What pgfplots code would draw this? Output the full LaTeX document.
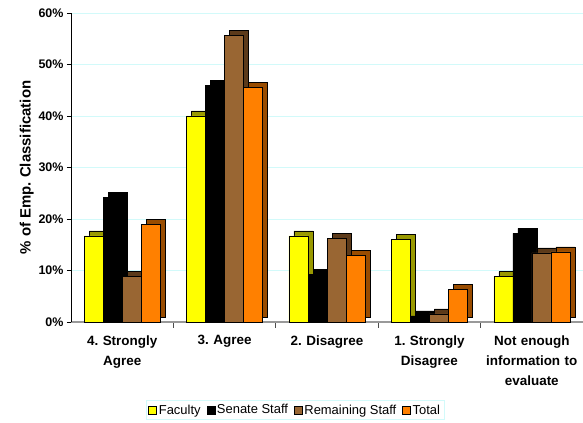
\documentclass[border=0pt]{standalone}
\usepackage{pgfplots}
\pgfplotsset{compat=1.18}
\usepackage{fontspec}
\setmainfont{Liberation Sans}
\usetikzlibrary{calc}
\definecolor{cFac}{HTML}{FFFF00}
\definecolor{cFacS}{HTML}{999900}
\definecolor{cSen}{HTML}{000000}
\definecolor{cSenS}{HTML}{000000}
\definecolor{cRem}{HTML}{996633}
\definecolor{cRemS}{HTML}{5C3A1A}
\definecolor{cTot}{HTML}{FF8000}
\definecolor{cTotS}{HTML}{994C00}
\definecolor{cGrid}{HTML}{D2FAFA}

\pgfplotstableread{
x fac sen rem tot
0 16.7 24.2 8.8 19.0
1 40.0 45.9 55.6 45.6
2 16.7 9.2 16.3 13.0
3 16.1 1.2 1.6 6.4
4 8.8 17.2 13.4 13.6
}\datatable

\tikzset{depth/.style={preaction={fill=#1, draw=black, line width=0.4pt,
  transform canvas={shift={(5bp,5bp)}}}}}

\begin{document}
\frenchspacing
\begin{tikzpicture}
\begin{axis}[
  name=ax,
  width=512bp, height=309bp, scale only axis,
  ybar, bar width=19bp,
  xmin=-0.5, xmax=4.5, ymin=0, ymax=60,
  axis lines*=left,
  x axis line style={draw=gray!80, line width=2.5bp},
  y axis line style={draw=black, line width=0.8bp},
  xtick={0,...,4},
  xticklabels={4. Strongly\\Agree, 3. Agree, 2. Disagree, 1. Strongly\\Disagree, Not enough\\information to\\evaluate},
  xticklabel style={align=center, text width=100bp, font=\fontsize{13.5}{20}\selectfont\bfseries, yshift=-6bp},
  major x tick style={draw=none},
  minor xtick={0.5,1.5,2.5,3.5},
  minor x tick style={draw=gray!60!black, line width=0.8bp},
  minor tick length=6bp,
  tick align=outside,
  ytick={0,10,...,60},
  major tick length=4bp,
  y tick style={draw=black, line width=0.8bp},
  yticklabel={\pgfmathprintnumber{\tick}\%},
  /pgf/number format/assume math mode=true,
  yticklabel style={font=\fontsize{12.5}{14}\selectfont\bfseries},
  ylabel={\% of Emp. Classification},
  ylabel style={font=\fontsize{15}{17}\selectfont\bfseries, yshift=-2bp},
  ymajorgrids, grid style={draw=cGrid, line width=0.8bp},
  legend columns=4,
  legend style={at={(rel axis cs:0.438,-0.285)}, anchor=center, draw=cGrid,
    font=\fontsize{13}{15}\selectfont, inner sep=2bp,
    /tikz/every even column/.append style={column sep=4bp}},
  legend image code/.code={\draw[#1, line width=0.4pt] (0bp,-4bp) rectangle (8bp,4bp);},
  clip=false,
]
\addlegendimage{fill=cFac, draw=black}
\addlegendentry{Faculty}
\addlegendimage{fill=cSen, draw=black}
\addlegendentry{Senate Staff}
\addlegendimage{fill=cRem, draw=black}
\addlegendentry{Remaining Staff}
\addlegendimage{fill=cTot, draw=black}
\addlegendentry{Total}
\addplot[forget plot, bar shift=-28.5bp, fill=cFac, draw=black, line width=0.4pt, depth=cFacS] table[x=x, y=fac] {\datatable};
\addplot[forget plot, bar shift=-9.5bp, fill=cSen, draw=black, line width=0.4pt, depth=cSenS] table[x=x, y=sen] {\datatable};
\addplot[forget plot, bar shift=9.5bp, fill=cRem, draw=black, line width=0.4pt, depth=cRemS] table[x=x, y=rem] {\datatable};
\addplot[forget plot, bar shift=28.5bp, fill=cTot, draw=black, line width=0.4pt, depth=cTotS] table[x=x, y=tot] {\datatable};
\end{axis}
\pgfresetboundingbox
\path[use as bounding box] ($(ax.south west)+(-71bp,-101bp)$) rectangle ($(ax.north east)+(0bp,13bp)$);
\end{tikzpicture}
\end{document}
